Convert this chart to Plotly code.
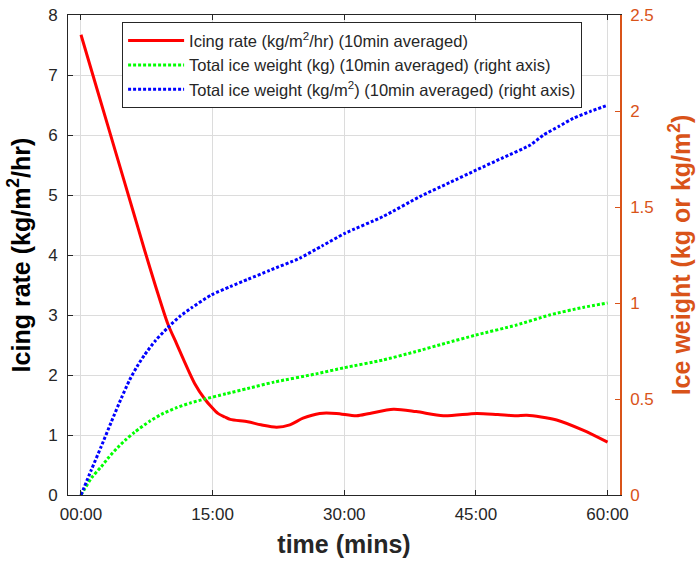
import plotly.graph_objects as go

# Icing rate over the run (kg/m^2/hr), 10-minute averaged
rate_t = [0, 2, 4, 6, 7.25, 8.5, 9.9, 10.9, 11.8, 12.95, 14.1, 14.85, 15.6, 16.4, 17,
          19, 20.5, 22.3, 23.8, 25.3, 27.2, 29.1, 31.4, 32.9, 35.6, 38.2, 41.3, 45.1,
          47.5, 49.6, 50.8, 54.2, 57.2, 60]
rate_v = [7.67, 6.68, 5.69, 4.70, 4.08, 3.48, 2.85, 2.52, 2.22, 1.86, 1.60, 1.47, 1.36,
          1.30, 1.26, 1.22, 1.17, 1.13, 1.17, 1.28, 1.36, 1.36, 1.32, 1.36, 1.43, 1.39,
          1.32, 1.36, 1.34, 1.32, 1.33, 1.25, 1.08, 0.88]

# Total ice weight (kg)
kg_t = [0, 0.4, 1.2, 2.3, 3.2, 4.2, 5.1, 6.1, 7.86, 9.15, 10.9, 12.5, 14.1, 16.5, 19,
        22, 26.8, 30, 34.4, 38, 41.5, 45, 49.6, 53.4, 57.2, 60]
kg_v = [0, 0.03, 0.09, 0.147, 0.198, 0.248, 0.288, 0.327, 0.385, 0.42, 0.455, 0.48, 0.50,
        0.527, 0.555, 0.588, 0.631, 0.663, 0.703, 0.745, 0.79, 0.833, 0.885, 0.9375,
        0.977, 1.0]

# Total ice weight per unit area (kg/m^2)
kgm2_t = [0, 1.17, 2.3, 3.45, 4.6, 5.55, 6.4, 7.25, 8.5, 9.9, 11.2, 12.6, 14.85, 17, 19,
          21.5, 24.9, 27.5, 30.07, 34.4, 38.6, 42, 45.07, 48, 51.2, 52.7, 54.5, 56.1,
          58, 60]
kgm2_v = [0, 0.130, 0.252, 0.38, 0.505, 0.60, 0.67, 0.73, 0.805, 0.872, 0.928, 0.975,
          1.042, 1.085, 1.123, 1.17, 1.233, 1.298, 1.363, 1.45, 1.554, 1.627, 1.693,
          1.755, 1.823, 1.875, 1.921, 1.962, 1.997, 2.03]

x_ticks = [0, 15, 30, 45, 60]
x_tick_text = ["00:00", "15:00", "30:00", "45:00", "60:00"]
left_ticks = [0, 1, 2, 3, 4, 5, 6, 7, 8]
right_ticks = [0, 0.5, 1, 1.5, 2, 2.5]
right_tick_text = ["0", "0.5", "1", "1.5", "2", "2.5"]

FONT = "Liberation Sans, Arial, sans-serif"
INK = "#262626"
ORANGE = "#D95319"
GRID = "#dcdcdc"

fig = go.Figure()
fig.add_trace(go.Scatter(
    x=rate_t, y=rate_v, mode="lines",
    line=dict(color="#ff0000", width=3, shape="spline", smoothing=0.8),
    name="Icing rate (kg/m<sup>2</sup>/hr) (10min averaged)"))
fig.add_trace(go.Scatter(
    x=kg_t, y=kg_v, mode="lines", yaxis="y2",
    line=dict(color="#00ff00", width=3, dash="3px,2px", shape="spline", smoothing=0.6),
    name="Total ice weight (kg) (10min averaged) (right axis)"))
fig.add_trace(go.Scatter(
    x=kgm2_t, y=kgm2_v, mode="lines", yaxis="y2",
    line=dict(color="#0000ff", width=3, dash="3px,2px", shape="spline", smoothing=0.6),
    name="Total ice weight (kg/m<sup>2</sup>) (10min averaged) (right axis)"))

fig.update_layout(
    width=699, height=563,
    margin=dict(l=68, r=79, t=15, b=68, autoexpand=False),
    paper_bgcolor="white", plot_bgcolor="white",
    font=dict(family=FONT, color=INK, size=15),
    showlegend=True,
    legend=dict(x=0.098, y=0.985, xanchor="left", yanchor="top",
                bgcolor="white", bordercolor=INK, borderwidth=1, itemwidth=56,
                font=dict(size=16.5, color=INK), tracegroupgap=0),
    xaxis=dict(
        range=[-1.48, 61.42], tickmode="array", tickvals=x_ticks, ticktext=x_tick_text,
        showgrid=True, gridcolor=GRID, gridwidth=1, zeroline=False, automargin=False,
        showline=True, linecolor=INK, linewidth=1, mirror="ticks",
        ticks="inside", ticklen=5, tickcolor=INK, ticklabelstandoff=4,
        tickfont=dict(size=17, color=INK),
        title=dict(text="<b>time (mins)</b>", font=dict(size=25, color=INK), standoff=12)),
    yaxis=dict(
        range=[0, 8], tickmode="array", tickvals=left_ticks,
        showgrid=True, gridcolor=GRID, gridwidth=1, zeroline=False, automargin=False,
        showline=True, linecolor=INK, linewidth=1,
        ticks="inside", ticklen=5, tickcolor=INK, ticklabelstandoff=6,
        tickfont=dict(size=17, color=INK),
        title=dict(text="<b>Icing rate (kg/m<sup>2</sup>/hr)</b>",
                   font=dict(size=25, color="black"), standoff=10)),
    yaxis2=dict(
        range=[0, 2.5], overlaying="y", side="right", tickmode="array",
        tickvals=right_ticks, ticktext=right_tick_text,
        showgrid=False, zeroline=False, automargin=False,
        showline=True, linecolor=ORANGE, linewidth=1.5,
        ticks="inside", ticklen=5, tickcolor=ORANGE, ticklabelstandoff=5,
        tickfont=dict(size=17, color=ORANGE),
        title=dict(text="<b>Ice weight (kg or kg/m<sup>2</sup>)</b>",
                   font=dict(size=25, color=ORANGE), standoff=20)),
)

fig.write_html("out.html")
